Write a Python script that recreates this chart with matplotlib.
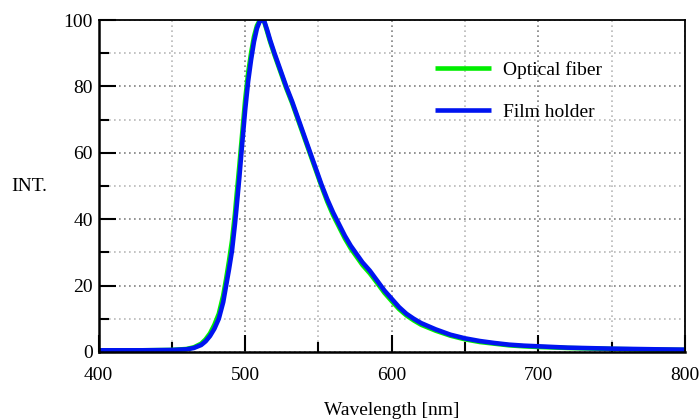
import numpy as np
import matplotlib
matplotlib.use('Agg')
import matplotlib.pyplot as plt
from matplotlib.ticker import MultipleLocator

plt.rcParams['font.family'] = ['Liberation Serif', 'DejaVu Serif']

# emission spectra
wavelength = [400, 430, 450, 460, 465, 470, 473, 476, 479, 482, 485, 487, 489,
              491, 493, 494, 496, 498, 500, 502, 504, 506, 508, 510, 511, 513,
              515, 517, 520, 524, 528, 532, 536, 540, 544, 548, 552, 556, 560,
              564, 568, 572, 576, 580, 585, 590, 595, 600, 605, 610, 615, 620,
              630, 640, 650, 660, 670, 680, 690, 700, 720, 750, 780, 800]

film_holder = [0.5, 0.5, 0.6, 0.8, 1.2, 2.1, 3.2, 4.8, 7.0, 10.0, 15.0, 20.0, 25.0,
               30.5, 38.5, 43.0, 52.5, 63.0, 73.0, 81.5, 88.0, 93.5, 97.5, 99.7, 100.2, 99.7,
               97.0, 94.0, 90.0, 85.0, 80.0, 75.5, 70.5, 65.5, 60.5, 55.5, 50.5, 46.0, 42.0,
               38.5, 35.0, 32.0, 29.5, 27.0, 24.5, 21.5, 18.5, 16.0, 13.5, 11.5, 10.0, 8.7,
               6.8, 5.2, 4.1, 3.3, 2.7, 2.2, 1.9, 1.7, 1.3, 1.0, 0.8, 0.7]

optical_fiber = [0.5, 0.5, 0.6, 0.9, 1.4, 2.5, 3.8, 5.6, 8.2, 11.5, 17.0, 22.0, 27.5,
                 33.5, 41.5, 46.5, 56.0, 66.0, 76.0, 84.0, 90.0, 95.0, 98.3, 100.0, 100.2, 99.5,
                 96.5, 93.5, 89.5, 84.5, 79.5, 75.0, 70.0, 65.0, 60.0, 55.0, 50.0, 45.3, 41.2,
                 37.7, 34.2, 31.2, 28.7, 26.2, 23.7, 20.8, 17.8, 15.3, 12.9, 11.0, 9.5, 8.2,
                 6.4, 4.9, 3.8, 3.0, 2.5, 2.0, 1.7, 1.5, 1.2, 0.9, 0.7, 0.6]

fig = plt.figure(figsize=(6.99, 4.19), dpi=100)
ax = fig.add_axes([0.141, 0.160, 0.839, 0.792])

ax.plot(wavelength, optical_fiber, color='#00ee00', linewidth=3.3,
        label='Optical fiber', solid_capstyle='butt')
ax.plot(wavelength, film_holder, color='#0014f0', linewidth=3.3,
        label='Film holder', solid_capstyle='butt')

ax.set_xlim(400, 800)
ax.set_ylim(0, 100)
ax.xaxis.set_major_locator(MultipleLocator(100))
ax.xaxis.set_minor_locator(MultipleLocator(50))
ax.yaxis.set_major_locator(MultipleLocator(20))
ax.yaxis.set_minor_locator(MultipleLocator(10))

ax.grid(which='major', color='#808080', linestyle=(0, (1, 2)), linewidth=1.2)
ax.grid(which='minor', color='#b8b8b8', linestyle=(0, (1, 2)), linewidth=1.2)
ax.set_axisbelow(True)

ax.tick_params(which='both', direction='in', top=False, right=False,
               labelsize=14, width=1.5, color='black')
ax.tick_params(which='major', length=12)
ax.tick_params(which='minor', length=7)
ax.tick_params(axis='y', pad=4)
ax.tick_params(axis='x', pad=11)

for side in ['left', 'bottom']:
    ax.spines[side].set_linewidth(1.8)
for side in ['top', 'right']:
    ax.spines[side].set_linewidth(1.3)

ax.set_xlabel('Wavelength [nm]', fontsize=14, labelpad=13)
ax.set_ylabel('INT.', fontsize=14, rotation=0, ha='left', va='center')
ax.yaxis.set_label_coords(-0.148, 0.5)

ax.legend(loc='upper left', bbox_to_anchor=(0.543, 0.930), frameon=False,
          fontsize=14, handlelength=2.9, handletextpad=0.6, labelspacing=1.25)

plt.savefig('out.png', dpi=100)
print("saved")
